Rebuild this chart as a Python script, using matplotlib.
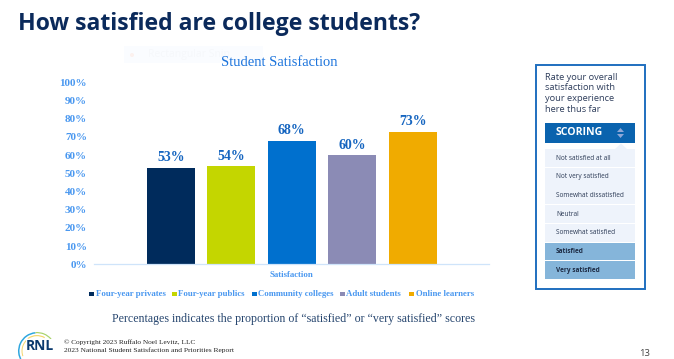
import matplotlib
matplotlib.use("Agg")
import matplotlib.pyplot as plt
from matplotlib.patches import Rectangle, Wedge, Polygon, Circle

categories = ["Four-year privates", "Four-year publics", "Community colleges", "Adult students", "Online learners"]
values = [53, 54, 68, 60, 73]
colors = ["#002B5C", "#C4D600", "#0070CE", "#8B8BB5", "#F0AB00"]
yticks = list(range(0, 101, 10))
scoring = ["Not satisfied at all", "Not very satisfied", "Somewhat dissatisfied", "Neutral", "Somewhat satisfied", "Satisfied", "Very satisfied"]

W, H = 674, 359
fig = plt.figure(figsize=(W/100, H/100), dpi=100, facecolor="white")
SERIF = "Liberation Serif"
SANS = "Open Sans"
BLUE = "#4A98F0"

# overlay in pixel coordinates
ov = fig.add_axes([0, 0, 1, 1], zorder=0)
ov.set_xlim(0, W); ov.set_ylim(H, 0); ov.axis("off")

ax = fig.add_axes([94/W, 1-264.4/H, 394.5/W, 182/H], zorder=1)
ax.patch.set_alpha(0)
x = range(len(values))
ax.bar(x, values, width=0.795, color=colors)
ax.set_xlim(-1.275, 5.257)
ax.set_ylim(0, 100)
ax.set_yticks(yticks, [f"{v}%" for v in yticks], fontsize=8, color=BLUE, fontweight="bold", fontfamily=SERIF)
ax.set_xticks([])
ax.tick_params(axis="y", length=0, pad=5)
for s in ["top", "right", "left"]:
    ax.spines[s].set_visible(False)
ax.spines["bottom"].set_color("#CFE4FA")
ax.spines["bottom"].set_linewidth(0.9)
for i, v in zip(x, values):
    ax.annotate(f"{v}%", (i, v), xytext=(0, 2.5), textcoords="offset points", ha="center", va="bottom",
                fontsize=10, fontweight="bold", color="#1565C0", fontfamily=SERIF)

# title and chart text
ov.text(18, 24, "How satisfied are college students?", fontsize=16.6, fontweight="bold", color="#0B2A5B", fontfamily=SANS, va="center")
ov.add_patch(Rectangle((124, 46), 139, 17, color="#FAFCFF", lw=0))
ov.add_patch(Circle((132, 55), 2, color="#FCF1EE", lw=0))
ov.text(148, 55, "Rectangular Snip", fontsize=7.5, color="#F6F8FB", fontfamily=SANS, va="center")
ov.text(279, 62, "Student Satisfaction", fontsize=10.5, color="#1C74DC", fontfamily=SERIF, ha="center", va="center")
ov.text(291.5, 275, "Satisfaction", fontsize=6.3, fontweight="bold", color=BLUE, fontfamily=SERIF, ha="center", va="center")

# legend
leg_sw = [89, 172, 252, 340, 409]
for px, c, n in zip(leg_sw, colors, categories):
    ov.add_patch(Rectangle((px, 291.7), 5, 4.5, color=c, lw=0))
    ov.text(px + 6.5, 294, n, fontsize=6.3, fontweight="bold", color=BLUE, fontfamily=SERIF, va="center")

ov.text(293.5, 319, "Percentages indicates the proportion of “satisfied” or “very satisfied” scores",
        fontsize=8.6, color="#27466F", fontfamily=SERIF, ha="center", va="center")
ov.text(64, 342, "© Copyright 2023 Ruffalo Noel Levitz, LLC", fontsize=5.2, color="#222222", fontfamily=SERIF, va="center")
ov.text(64, 350.5, "2023 National Student Satisfaction and Priorities Report", fontsize=5.4, color="#222222", fontfamily=SERIF, va="center")
ov.text(645, 354, "13", fontsize=6.8, color="#444444", fontfamily=SANS, ha="center", va="center")

# RNL logo (angles given on screen, negated because y runs downward)
cx, cy = 37, 351
for r, a, b, c, wd in [(19, 95, 215, "#2EA6DF", 1.5), (19, 40, 95, "#A8D26A", 1.2),
                       (16, 60, 125, "#F5D76E", 1.2), (15.5, 125, 200, "#F5D76E", 1.0)]:
    ov.add_patch(Wedge((cx, cy), r, -b, -a, width=wd, color=c, lw=0))
ov.add_patch(Rectangle((26, 339), 29, 15, color="white", lw=0))
ov.text(40, 346.5, "RNL", fontsize=10, fontweight="bold", color="#0B3A6E", fontfamily=SANS, ha="center", va="center")

# scoring panel
ov.add_patch(Rectangle((535.5, 65), 109, 224, fill=False, ec="#1F6FBF", lw=1.4))
for i, t in enumerate(["Rate your overall", "satisfaction with", "your experience", "here thus far"]):
    ov.text(545, 77 + i*10.8, t, fontsize=6.7, color="#2F3E5C", fontfamily=SANS, va="center")
ov.add_patch(Rectangle((545, 123), 90, 20, color="#0A63AE", lw=0))
ov.text(556, 132.5, "SCORING", fontsize=7.6, fontweight="bold", color="white", fontfamily=SANS, va="center")
ov.add_patch(Polygon([[617, 132], [620.5, 128], [624, 132]], color="#8FA8D8", lw=0))
ov.add_patch(Polygon([[617, 134], [620.5, 138], [624, 134]], color="#8FA8D8", lw=0))
ov.add_patch(Polygon([[615, 149], [621, 143.5], [627, 149]], color="#EEF3FB", lw=0))
row_h = 18.7
for i, t in enumerate(scoring):
    top = 149 + i*row_h
    sel = i >= 5
    ov.add_patch(Rectangle((545, top), 90, row_h - 0.8, color="#85B5DA" if sel else "#EEF3FB", lw=0))
    ov.text(556, top + row_h/2 - 0.3, t, fontsize=4.7, color="#2B3A55" if not sel else "#1E2C45",
            fontweight="bold" if sel else "normal", fontfamily=SANS, va="center")

fig.savefig("out.png", dpi=100)
